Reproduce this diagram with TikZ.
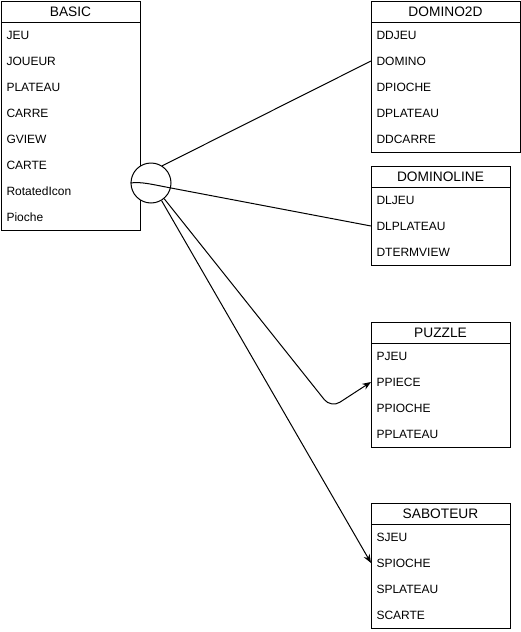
\documentclass[tikz,border=0pt]{standalone}
\usepackage{fontspec}
\setmainfont{Liberation Sans}
\usetikzlibrary{arrows.meta}

% \classbox{id}{left}{top}{width}{title}{fields}
% rows are named id-1, id-2, ...
\newcommand\classbox[6]{%
  \foreach \r [count=\i] in {#6} {\xdef\rowcount{\i}}%
  \node[frame, minimum width=#4*0.75pt, minimum height=(21+26*\rowcount)*0.75pt] (#1) at (#2,#3) {};
  \draw (#2,#3+21) -- (#2+#4,#3+21);
  \node[classtitle] (#1-title) at (#2+#4/2,#3+10.5) {#5};
  \foreach \r [count=\i] in {#6} {\node[field] (#1-\i) at (#2,#3+8+26*\i) {\r};}%
}

\begin{document}
\begin{tikzpicture}[x=0.75pt,y=-0.75pt,line width=0.75pt,
  every node/.style={font=\fontsize{9pt}{11pt}\selectfont},
  frame/.style={draw, rectangle, anchor=north west, inner sep=0pt},
  classtitle/.style={anchor=center, inner sep=0pt, font=\fontsize{10.3pt}{12pt}\selectfont},
  field/.style={anchor=west, inner xsep=3.75pt, inner ysep=0pt, text height=8.45pt, text depth=2pt},
  hubstyle/.style={draw, circle, fill=white, minimum size=30pt, inner sep=0pt},
  link/.style={draw, line width=0.75pt},
  arrowlink/.style={link, -{Stealth[length=6.5pt,width=5pt]}}]

\useasboundingbox (0,0) rectangle (521,632);

\classbox{basic}{1}{1}{139}{BASIC}{JEU,JOUEUR,PLATEAU,CARRE,GVIEW,CARTE,RotatedIcon,Pioche}
\classbox{domino2d}{371}{1}{149}{DOMINO2D}{DDJEU,DOMINO,DPIOCHE,DPLATEAU,DDCARRE}
\classbox{dominoline}{371}{166}{139}{DOMINOLINE}{DLJEU,DLPLATEAU,DTERMVIEW}
\classbox{puzzle}{371}{322}{139}{PUZZLE}{PJEU,PPIECE,PPIOCHE,PPLATEAU}
\classbox{saboteur}{371}{503}{139}{SABOTEUR}{SJEU,SPIOCHE,SPLATEAU,SCARTE}

% junction circle
\node[hubstyle] (hub) at (151,183) {};

% connectors
\draw[link] (hub.57) -- (domino2d-2.west);
\coordinate (curveend) at (171,188);
\draw[link] (hub.west) .. controls (141,181.5) and (151,184.2) .. (curveend) -- (dominoline-2.west);
\coordinate (pbend) at (331,408);
\draw[arrowlink, rounded corners=8pt] (hub.-50) -- (pbend) -- (puzzle-2.west);
\draw[arrowlink] (hub.-59) -- (saboteur-2.west);

\end{tikzpicture}
\end{document}
